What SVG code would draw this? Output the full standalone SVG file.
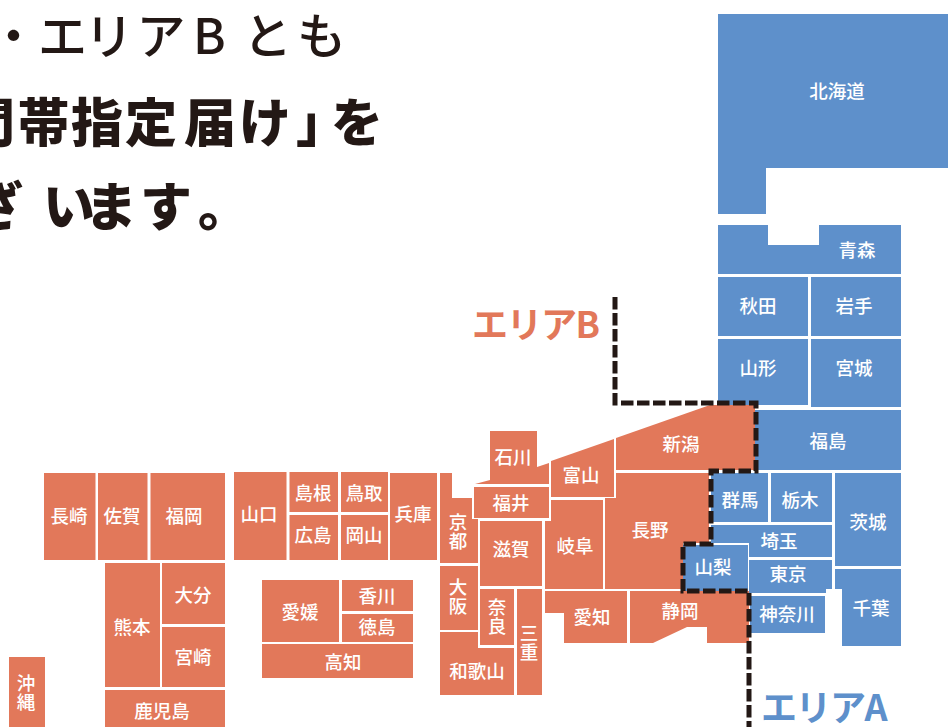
<svg xmlns="http://www.w3.org/2000/svg" width="948" height="727" viewBox="0 0 948 727">
<style>
text{font-family:"Noto Sans CJK JP","Noto Sans",sans-serif}
.a{fill:#5e90cb}
.b{fill:#e2785a}
.l{fill:#fff;font-size:18.5px;font-weight:500;text-anchor:middle;transform:translateY(1px)}
.v{writing-mode:vertical-rl;letter-spacing:.5px}
.h{fill:#231815;font-size:52px;font-weight:900}
.n{font-size:49px;font-weight:500}
.t{font-size:36px;font-weight:700;letter-spacing:-1.500px}
#line{fill:none;stroke:#231815;stroke-width:5;stroke-dasharray:12.500 3.500}
</style>
<rect width="948" height="727" fill="#fff"/>
<g id="heading">
<text class="h n" x="-11 38 84.500 136.500 193 243 297" y="54">・エリアBとも</text>
<text class="h" x="-37 17.500 71 125 184 239 296 331" y="142">間帯指定届け」を</text>
<text class="h" x="-29 43 85 140 198" y="226">ざいます。</text>
</g>
<g id="hokkaido"><path class="a" d="M718 14H948V168H766V214H718Z"/><text class="l" x="837" y="97">北海道</text></g>
<g id="aomori"><path class="a" d="M718 225H768V245H819V225H901V274H718Z"/><text class="l" x="857" y="256">青森</text></g>
<g id="akita"><path class="a" d="M718 277H808V336H718Z"/><text class="l" x="758" y="312">秋田</text></g>
<g id="iwate"><path class="a" d="M811 277H901V336H811Z"/><text class="l" x="854" y="312">岩手</text></g>
<g id="yamagata"><path class="a" d="M718 339H808V405H718Z"/><text class="l" x="758" y="374">山形</text></g>
<g id="miyagi"><path class="a" d="M811 339H901V407H811Z"/><text class="l" x="854" y="374">宮城</text></g>
<g id="fukushima"><path class="a" d="M754 410H901V470H754Z"/><text class="l" x="828" y="447">福島</text></g>
<g id="gunma"><path class="a" d="M711 473H768V522H711Z"/><text class="l" x="740" y="506">群馬</text></g>
<g id="tochigi"><path class="a" d="M771 473H832V522H771Z"/><text class="l" x="800" y="506">栃木</text></g>
<g id="ibaraki"><path class="a" d="M835 473H901V566H835Z"/><text class="l" x="868" y="528">茨城</text></g>
<g id="saitama"><path class="a" d="M711 525H832V557H749V543H711Z"/><text class="l" x="779" y="547">埼玉</text></g>
<g id="tokyo"><path class="a" d="M749 560H832V589H826V593H749Z"/><text class="l" x="788" y="580">東京</text></g>
<g id="chiba"><path class="a" d="M835 569H901V646H842V589H835Z"/><text class="l" x="871" y="614">千葉</text></g>
<g id="kanagawa"><path class="a" d="M750 596H825V633H750Z"/><text class="l" x="787" y="620">神奈川</text></g>
<g id="yamanashi"><path class="a" d="M683 545H748V591H683Z"/><text class="l" x="713" y="573">山梨</text></g>
<g id="niigata"><path class="b" d="M616 438L710 405H755V470H616Z"/><text class="l" x="681" y="450">新潟</text></g>
<g id="nagano"><path class="b" d="M616 473H709V543H683V589H605V498H616Z"/><text class="l" x="650" y="536">長野</text></g>
<g id="toyama"><path class="b" d="M551 461L614 439V497H551Z"/><text class="l" x="581" y="481">富山</text></g>
<g id="ishikawa"><path class="b" d="M490 431H537V467L549 463V484H475L490 480Z"/><text class="l" x="513" y="463">石川</text></g>
<g id="fukui"><path class="b" d="M474 487H549V518H474Z"/><text class="l" x="511" y="509">福井</text></g>
<g id="gifu"><path class="b" d="M551 500H603V589H545V521H551Z"/><text class="l" x="575" y="552">岐阜</text></g>
<g id="shiga"><path class="b" d="M480 521H542V586H480Z"/><text class="l" x="511" y="555">滋賀</text></g>
<g id="kyoto"><path class="b" d="M440 473H452V498H472V519H478V563H440Z"/><text class="l v" x="458" y="531">京都</text></g>
<g id="osaka"><path class="b" d="M440 566H478V630H440Z"/><text class="l v" x="458" y="596">大阪</text></g>
<g id="nara"><path class="b" d="M480 589H514V645H480Z"/><text class="l v" x="497" y="616">奈良</text></g>
<g id="mie"><path class="b" d="M517 589H542V695H517Z"/><text class="l v" x="529" y="642">三重</text></g>
<g id="wakayama"><path class="b" d="M440 632H478V648H514V695H440Z"/><text class="l" x="477" y="677">和歌山</text></g>
<g id="aichi"><path class="b" d="M545 591H627V643H564V613H545Z"/><text class="l" x="592" y="623">愛知</text></g>
<g id="shizuoka"><path class="b" d="M630 591H749V643H707V627H687L653 643H630Z"/><text class="l" x="680" y="617">静岡</text></g>
<g id="nagasaki"><path class="b" d="M44 473H95.500V560H44Z"/><text class="l" x="69" y="522">長崎</text></g>
<g id="saga"><path class="b" d="M98 473H147.500V560H98Z"/><text class="l" x="122" y="522">佐賀</text></g>
<g id="fukuoka"><path class="b" d="M150.500 473H225V560H150.500Z"/><text class="l" x="184" y="522">福岡</text></g>
<g id="yamaguchi"><path class="b" d="M234 472H286.500V560H234Z"/><text class="l" x="259" y="520">山口</text></g>
<g id="shimane"><path class="b" d="M289.500 472H338V512H289.500Z"/><text class="l" x="313" y="499">島根</text></g>
<g id="tottori"><path class="b" d="M341 472H388V512H341Z"/><text class="l" x="364" y="499">鳥取</text></g>
<g id="hiroshima"><path class="b" d="M289.500 515H338V560H289.500Z"/><text class="l" x="313" y="541">広島</text></g>
<g id="okayama"><path class="b" d="M341 515H388V560H341Z"/><text class="l" x="364" y="541">岡山</text></g>
<g id="hyogo"><path class="b" d="M390 473H437V560H390Z"/><text class="l" x="413" y="520">兵庫</text></g>
<g id="kumamoto"><path class="b" d="M105 563H160V687H105Z"/><text class="l" x="132" y="633">熊本</text></g>
<g id="oita"><path class="b" d="M162 563H225V624H162Z"/><text class="l" x="193" y="601">大分</text></g>
<g id="miyazaki"><path class="b" d="M162 627H225V687H162Z"/><text class="l" x="193" y="663">宮崎</text></g>
<g id="kagoshima"><path class="b" d="M105 690H225V727H105Z"/><text class="l" x="162" y="717">鹿児島</text></g>
<g id="okinawa"><path class="b" d="M9 657H45V727H9Z"/><text class="l v" x="26" y="692">沖縄</text></g>
<g id="ehime"><path class="b" d="M262 580H339V642H262Z"/><text class="l" x="300" y="618">愛媛</text></g>
<g id="kagawa"><path class="b" d="M342 580H413V611H342Z"/><text class="l" x="377" y="602">香川</text></g>
<g id="tokushima"><path class="b" d="M342 614H413V642H342Z"/><text class="l" x="377" y="633">徳島</text></g>
<g id="kochi"><path class="b" d="M262 644H413V678H262Z"/><text class="l" x="343" y="668">高知</text></g>
<g id="labelA"><text class="t" x="761" y="721" fill="#5e90cb">エリアA</text></g>
<g id="labelB"><text class="t" x="472" y="338" fill="#e2785a">エリアB</text></g>
<g id="connectors"><path id="line" d="M615 297V403H756V471H711V544H683V591H749V727"/></g>
</svg>
